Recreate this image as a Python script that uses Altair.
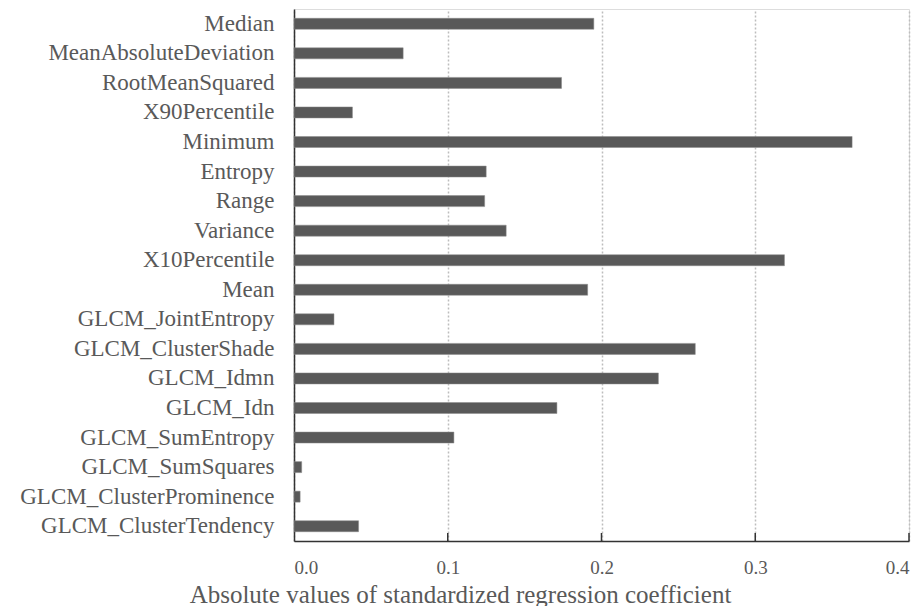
import altair as alt
import pandas as pd

features = [
    "Median", "MeanAbsoluteDeviation", "RootMeanSquared", "X90Percentile",
    "Minimum", "Entropy", "Range", "Variance", "X10Percentile", "Mean",
    "GLCM_JointEntropy", "GLCM_ClusterShade", "GLCM_Idmn", "GLCM_Idn",
    "GLCM_SumEntropy", "GLCM_SumSquares", "GLCM_ClusterProminence",
    "GLCM_ClusterTendency",
]
coefficients = [
    0.195, 0.071, 0.174, 0.038, 0.363, 0.125, 0.124, 0.138, 0.319, 0.191,
    0.026, 0.261, 0.237, 0.171, 0.104, 0.005, 0.004, 0.042,
]
tick_values = [0.0, 0.1, 0.2, 0.3, 0.4]
inner_ticks = [0.1, 0.2, 0.3, 0.4]

df = pd.DataFrame({"feature": features, "value": coefficients})
ticks_df = pd.DataFrame({"t": inner_ticks})

W, H = 615, 532
FONT = "Liberation Serif"
TXT = "#595959"

xscale = alt.Scale(domain=[0, 0.4], nice=False, zero=True)

bars = alt.Chart(df).mark_bar(color="#595959", size=11, stroke="#8a8a8a", strokeWidth=0.5).encode(
    x=alt.X(
        "value:Q",
        scale=xscale,
        axis=alt.Axis(
            values=tick_values,
            format=".1f",
            title="Absolute values of standardized regression coefficient",
            titleFont=FONT,
            titleFontSize=25,
            titleFontWeight="normal",
            titleColor=TXT,
            titleX=166,
            titleY=61,
            titleAlign="center",
            titleBaseline="alphabetic",
            labelFont=FONT,
            labelFontSize=19,
            labelColor=TXT,
            labelPadding=17,
            ticks=False,
            domainColor="#333333",
            domainWidth=1.5,
            grid=True,
            gridColor="#bdbdbd",
            gridDash=[2, 2],
            gridWidth=1.5,
        ),
    ),
    y=alt.Y(
        "feature:N",
        sort=features,
        scale=alt.Scale(paddingInner=0.6, paddingOuter=0.3),
        axis=alt.Axis(
            title=None,
            labelFont=FONT,
            labelFontSize=23,
            labelColor=TXT,
            labelPadding=20,
            labelLimit=400,
            ticks=False,
            domainColor="#333333",
            domainWidth=1.5,
            grid=False,
        ),
    ),
)

ticks = alt.Chart(ticks_df).mark_rule(color="#333333", strokeWidth=1.5).encode(
    x=alt.X("t:Q", scale=xscale),
    y=alt.value(H),
    y2=alt.value(H - 8),
)

chart = alt.layer(bars, ticks).properties(
    width=W,
    height=H,
    autosize=alt.AutoSizeParams(type="none"),
    padding={"left": 286, "top": 1, "right": 3, "bottom": 65},
).configure_view(stroke=None).configure(background="white")

chart.save("out.html", embed_options={"renderer": "svg", "actions": False})
